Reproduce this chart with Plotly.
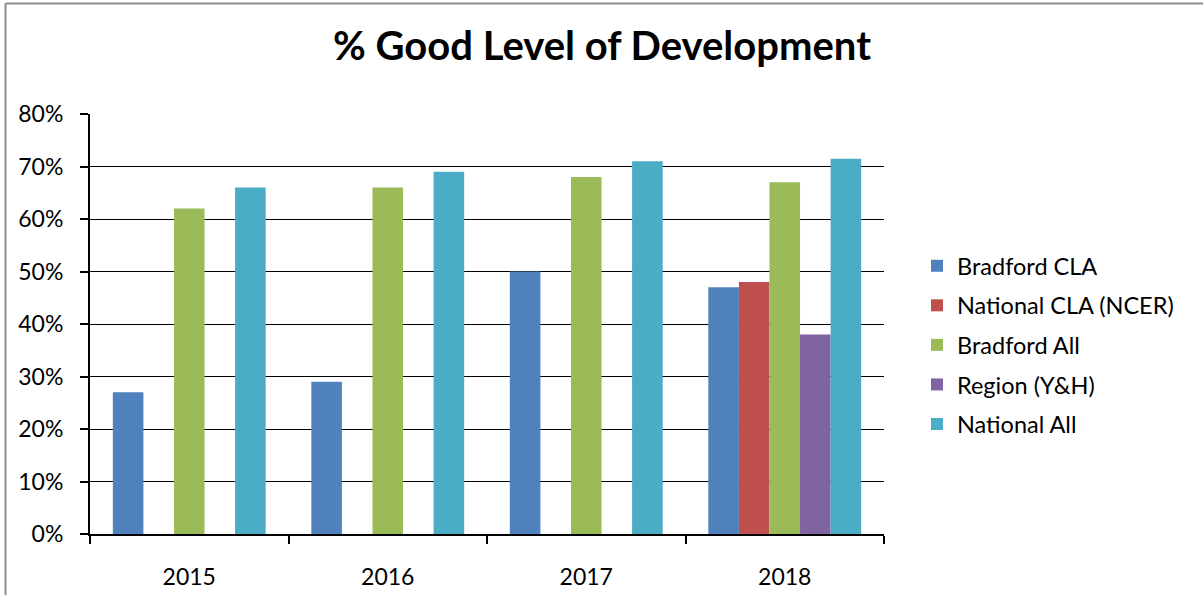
import plotly.graph_objects as go

# ---- data ----
years = ["2015", "2016", "2017", "2018"]
series_names = [
    "Bradford CLA",
    "National CLA (NCER)",
    "Bradford All",
    "Region (Y&H)",
    "National All",
]
bradford_cla = [0.27, 0.29, 0.50, 0.47]
national_cla = [None, None, None, 0.48]
bradford_all = [0.62, 0.66, 0.68, 0.67]
region_yh = [None, None, None, 0.38]
national_all = [0.66, 0.69, 0.71, 0.715]

y_ticks = [0, 0.1, 0.2, 0.3, 0.4, 0.5, 0.6, 0.7, 0.8]

colors = ["#4F81BD", "#C0504D", "#9BBB59", "#8064A2", "#4BACC6"]
values = [bradford_cla, national_cla, bradford_all, region_yh, national_all]

FONT = "Lato, Carlito, Calibri, sans-serif"

fig = go.Figure()
for name, vals, col in zip(series_names, values, colors):
    fig.add_trace(
        go.Bar(
            x=years,
            y=vals,
            name=name,
            marker=dict(color=col, line=dict(width=0)),
            legendgroup=name,
        )
    )

fig.update_layout(
    width=1203,
    height=595,
    paper_bgcolor="white",
    plot_bgcolor="white",
    barmode="group",
    bargap=0.23,
    bargroupgap=0,
    margin=dict(l=90, r=319, t=114, b=61),
    font=dict(family=FONT, size=23, color="#000"),
    title=dict(
        text="<b>% Good Level of Development</b>",
        x=(336 + 868) / 2 / 1203,
        xanchor="center",
        y=1 - 46 / 595,
        yanchor="middle",
        font=dict(family=FONT, size=40, color="#000"),
    ),
    xaxis=dict(
        type="category",
        automargin=False,
        showline=True,
        linecolor="#000",
        linewidth=2,
        ticks="outside",
        tickson="boundaries",
        ticklen=8,
        tickwidth=1.5,
        tickcolor="#000",
        ticklabelstandoff=21,
        showgrid=False,
        zeroline=False,
    ),
    yaxis=dict(
        range=[0, 0.8],
        automargin=False,
        tickvals=y_ticks,
        tickformat=".0%",
        showline=True,
        linecolor="#000",
        linewidth=2,
        ticks="outside",
        ticklen=8,
        tickwidth=1.5,
        tickcolor="#000",
        ticklabelstandoff=12,
        showgrid=True,
        gridcolor="#000",
        gridwidth=1.4,
        zeroline=False,
    ),
    legend=dict(
        x=(917 - 90) / 794,
        xanchor="left",
        y=(534 - 345) / 420,
        yanchor="middle",
        tracegroupgap=6,
        font=dict(family=FONT, size=23.5, color="#000"),
        bgcolor="rgba(0,0,0,0)",
    ),
    shapes=[
        # chart border (top and left edges visible)
        dict(type="line", xref="paper", yref="paper",
             x0=(5.5 - 90) / 794, x1=1.6, y0=(534 - 3.5) / 420, y1=(534 - 3.5) / 420,
             line=dict(color="#8c8c8c", width=2)),
        dict(type="line", xref="paper", yref="paper",
             x0=(5.5 - 90) / 794, x1=(5.5 - 90) / 794, y0=(534 - 3.5) / 420, y1=-0.3,
             line=dict(color="#8c8c8c", width=2)),
    ],
)

# drop the default page margin so the figure sits at the window's top-left
fig.write_html(
    "out.html",
    config={"displayModeBar": False},
    post_script="document.body.style.margin='0';",
)
